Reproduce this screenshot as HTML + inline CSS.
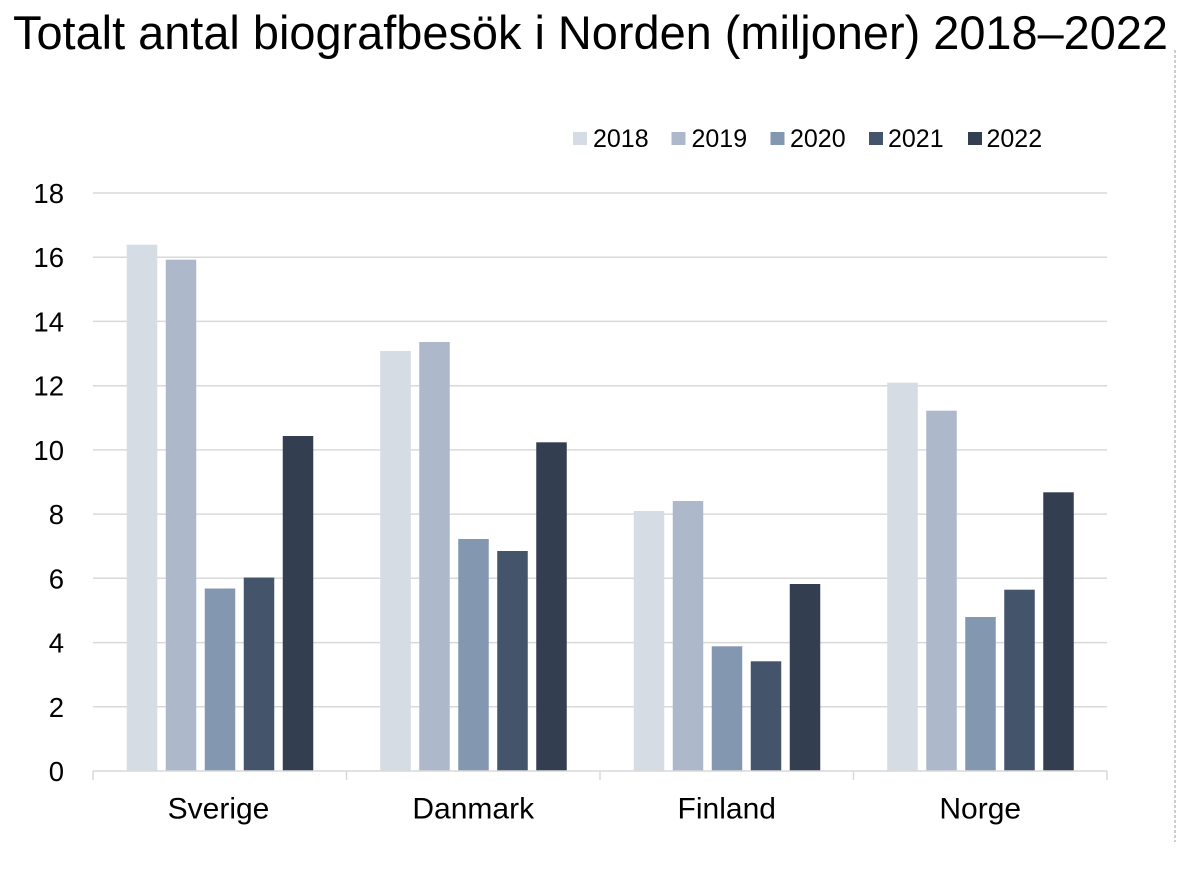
<!DOCTYPE html>
<html>
<head>
<meta charset="utf-8">
<style>
  html, body { margin: 0; padding: 0; background: #ffffff; }
  svg { display: block; }
  text { font-family: "Liberation Sans", Arial, sans-serif; fill: #000; }
</style>
</head>
<body>
<svg width="1200" height="887" viewBox="0 0 1200 887" xmlns="http://www.w3.org/2000/svg">
  <rect width="1200" height="887" fill="#ffffff"/>

  <!-- Title -->
  <text x="13" y="49" font-size="47" textLength="1155" lengthAdjust="spacingAndGlyphs">Totalt antal biografbesök i Norden (miljoner) 2018–2022</text>

  <!-- dotted separator -->
  <line x1="1175" y1="50" x2="1175" y2="842" stroke="#bdbdbd" stroke-width="1.5" stroke-dasharray="3,2"/>

  <!-- gridlines -->
  <g stroke="#d9d9d9" stroke-width="1.5">
    <line x1="93" y1="193" x2="1107" y2="193"/>
    <line x1="93" y1="257.2" x2="1107" y2="257.2"/>
    <line x1="93" y1="321.4" x2="1107" y2="321.4"/>
    <line x1="93" y1="385.7" x2="1107" y2="385.7"/>
    <line x1="93" y1="449.9" x2="1107" y2="449.9"/>
    <line x1="93" y1="514.1" x2="1107" y2="514.1"/>
    <line x1="93" y1="578.3" x2="1107" y2="578.3"/>
    <line x1="93" y1="642.6" x2="1107" y2="642.6"/>
    <line x1="93" y1="706.8" x2="1107" y2="706.8"/>
  </g>

  <!-- y labels -->
  <g font-size="27.5" text-anchor="end">
    <text x="64" y="203">18</text>
    <text x="64" y="267.2">16</text>
    <text x="64" y="331.4">14</text>
    <text x="64" y="395.7">12</text>
    <text x="64" y="459.9">10</text>
    <text x="64" y="524.1">8</text>
    <text x="64" y="588.3">6</text>
    <text x="64" y="652.6">4</text>
    <text x="64" y="716.8">2</text>
    <text x="64" y="781">0</text>
  </g>

  <!-- bars -->
  <!-- Sverige -->
  <rect x="126.75" y="244.7" width="30.5" height="526.3" fill="#D6DCE4"/>
  <rect x="165.75" y="259.7" width="30.5" height="511.3" fill="#ADB9CA"/>
  <rect x="204.75" y="588.5" width="30.5" height="182.5" fill="#8497B0"/>
  <rect x="243.75" y="577.5" width="30.5" height="193.5" fill="#44546A"/>
  <rect x="282.75" y="436" width="30.5" height="335" fill="#333F50"/>
  <!-- Danmark -->
  <rect x="380.25" y="351" width="30.5" height="420" fill="#D6DCE4"/>
  <rect x="419.25" y="342" width="30.5" height="429" fill="#ADB9CA"/>
  <rect x="458.25" y="539" width="30.5" height="232" fill="#8497B0"/>
  <rect x="497.25" y="551" width="30.5" height="220" fill="#44546A"/>
  <rect x="536.25" y="442.3" width="30.5" height="328.7" fill="#333F50"/>
  <!-- Finland -->
  <rect x="633.75" y="511" width="30.5" height="260" fill="#D6DCE4"/>
  <rect x="672.75" y="501" width="30.5" height="270" fill="#ADB9CA"/>
  <rect x="711.75" y="646.3" width="30.5" height="124.7" fill="#8497B0"/>
  <rect x="750.75" y="661.3" width="30.5" height="109.7" fill="#44546A"/>
  <rect x="789.75" y="584" width="30.5" height="187" fill="#333F50"/>
  <!-- Norge -->
  <rect x="887.25" y="382.7" width="30.5" height="388.3" fill="#D6DCE4"/>
  <rect x="926.25" y="410.7" width="30.5" height="360.3" fill="#ADB9CA"/>
  <rect x="965.25" y="617" width="30.5" height="154" fill="#8497B0"/>
  <rect x="1004.25" y="589.7" width="30.5" height="181.3" fill="#44546A"/>
  <rect x="1043.25" y="492.3" width="30.5" height="278.7" fill="#333F50"/>

  <!-- x axis -->
  <g stroke="#d9d9d9" stroke-width="1.5">
    <line x1="93" y1="771" x2="1107" y2="771"/>
    <line x1="93" y1="771" x2="93" y2="780"/>
    <line x1="346.5" y1="771" x2="346.5" y2="780"/>
    <line x1="600" y1="771" x2="600" y2="780"/>
    <line x1="853.5" y1="771" x2="853.5" y2="780"/>
    <line x1="1107" y1="771" x2="1107" y2="780"/>
  </g>

  <!-- category labels -->
  <g font-size="30" text-anchor="middle">
    <text x="218.5" y="818.5">Sverige</text>
    <text x="473.25" y="818.5">Danmark</text>
    <text x="726.75" y="818.5">Finland</text>
    <text x="980.25" y="818.5">Norge</text>
  </g>

  <!-- legend -->
  <g font-size="25">
    <rect x="573" y="132" width="14" height="13" fill="#D6DCE4"/>
    <text x="593" y="147">2018</text>
    <rect x="671.5" y="132" width="14" height="13" fill="#ADB9CA"/>
    <text x="691.5" y="147">2019</text>
    <rect x="770.5" y="132" width="14" height="13" fill="#8497B0"/>
    <text x="790" y="147">2020</text>
    <rect x="869" y="132" width="14" height="13" fill="#44546A"/>
    <text x="888" y="147">2021</text>
    <rect x="968" y="132" width="14" height="13" fill="#333F50"/>
    <text x="986.5" y="147">2022</text>
  </g>
</svg>
</body>
</html>
